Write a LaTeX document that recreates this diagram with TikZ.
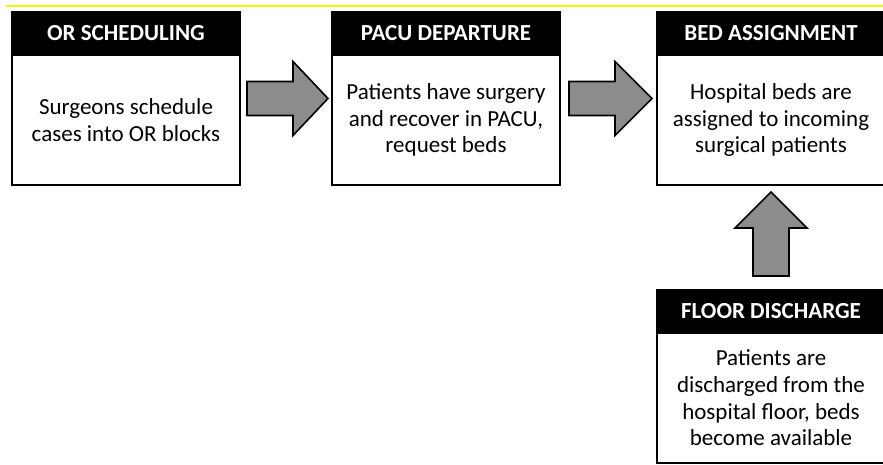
\documentclass[tikz,border=0pt]{standalone}
\usepackage{fontspec}
\setmainfont{Carlito}
\usetikzlibrary{positioning,calc}
\tikzset{font={\fontsize{23pt}{26.7pt}\selectfont}}
\tikzset{
  head/.style={draw=black,fill=black,text=white,line width=2pt,outer sep=0pt,
    minimum width=228,minimum height=43,inner sep=0pt,
    font={\fontsize{23pt}{26pt}\selectfont\bfseries}},
  stage/.style={draw=black,fill=white,line width=2pt,outer sep=0pt,
    minimum width=228,minimum height=130,inner sep=0pt,align=center},
  blockarrow/.style={draw=black,fill=black!45,line width=1.6pt,line join=miter}
}

\begin{document}
\begin{tikzpicture}[x=1pt,y=1pt]
      \useasboundingbox (0,0) rectangle (883,464);
      %top rule
      \draw[yellow,line width=1.5pt] (6,458) -- (883,458);
      %stages
      \node[head] (orhead) at (126,430.5) {OR SCHEDULING};
      \node[stage,below=0pt of orhead] (orbody) {Surgeons schedule\\cases into OR blocks};
      \node[head,right=92 of orhead] (pacuhead) {PACU DEPARTURE};
      \node[stage,below=0pt of pacuhead] (pacubody) {Patients have surgery\\and recover in PACU,\\request beds};
      \node[head,right=97 of pacuhead] (bedhead) {BED ASSIGNMENT};
      \node[stage,below=0pt of bedhead] (bedbody) {Hospital beds are\\assigned to incoming\\surgical patients};
      \node[head,below=105 of bedbody] (floorhead) {FLOOR DISCHARGE};
      \node[stage,below=0pt of floorhead] (floorbody) {Patients are\\discharged from the\\hospital floor, beds\\become available};
      %arrows
      \coordinate (a1) at ($(orhead.north east)!0.5!(orbody.south east)$);
      \coordinate (a2) at ($(pacuhead.north east)!0.5!(pacubody.south east)$);
      \coordinate (a3) at (floorhead.north);
      \draw[blockarrow] (a1) ++(7,17) -- ++(46,0) -- ++(0,20) -- ++(35,-37)
        -- ++(-35,-37) -- ++(0,20) -- ++(-46,0) -- cycle;
      \draw[blockarrow] (a2) ++(9,17) -- ++(46,0) -- ++(0,20) -- ++(37,-37)
        -- ++(-37,-37) -- ++(0,20) -- ++(-46,0) -- cycle;
      \draw[blockarrow] (a3) ++(-18,14) -- ++(0,48) -- ++(-18,0) -- ++(36,36)
        -- ++(36,-36) -- ++(-18,0) -- ++(0,-48) -- cycle;
\end{tikzpicture}
\end{document}
